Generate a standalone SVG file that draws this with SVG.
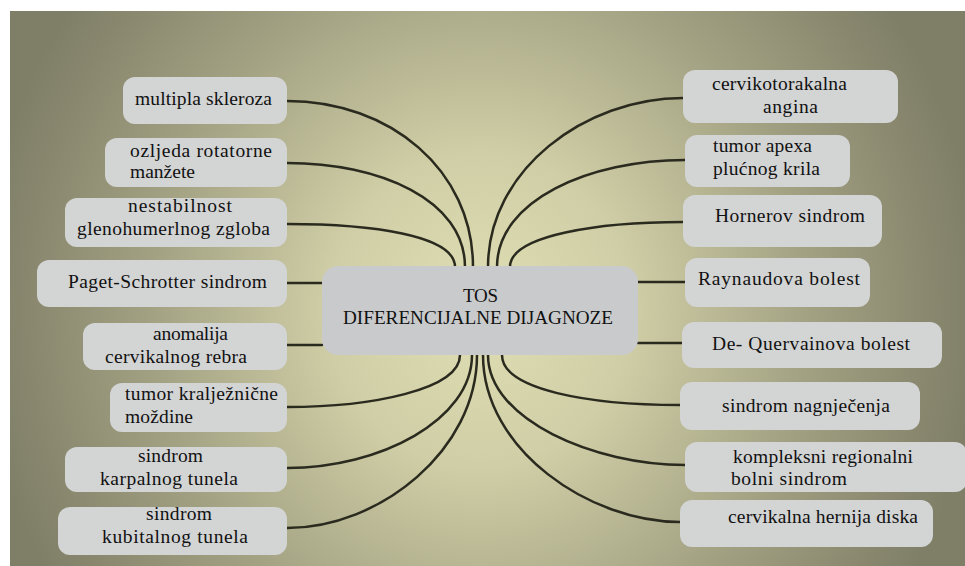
<svg xmlns="http://www.w3.org/2000/svg" width="965" height="566" viewBox="0 0 965 566">
<defs>
<radialGradient id="bg" gradientUnits="userSpaceOnUse" cx="480" cy="310" r="500" gradientTransform="translate(480 310) scale(1 1.05) translate(-480 -310)">
<stop offset="0" stop-color="#e0deb4"/>
<stop offset="0.3" stop-color="#d0cea6"/>
<stop offset="0.65" stop-color="#a3a283"/>
<stop offset="1" stop-color="#7f7e67"/>
</radialGradient>
</defs>
<style>
.n{fill:#d3d4d4;stroke:none}
.c{fill:#c9cacc}
.lbl{font-family:"Liberation Serif","Times New Roman",serif;font-size:19.5px;fill:#111111}
.ct{font-family:"Liberation Serif","Times New Roman",serif;font-size:19px;fill:#111111}
.e{fill:none;stroke:#2a2a1f;stroke-width:2.5;stroke-linecap:round}
</style>
<rect x="0" y="0" width="965" height="566" fill="#ffffff"/>
<rect x="10" y="11" width="955" height="555" fill="url(#bg)"/>
<g id="connectors">
<path class="e" d="M287,101 C390,101 473,170 473,267"/>
<path class="e" d="M287,163 C380,163 465,200 465,267"/>
<path class="e" d="M287,224 C370,224 455,235 455,267"/>
<path class="e" d="M287,283 H322"/>
<path class="e" d="M287,345 H322"/>
<path class="e" d="M287,407 C370,407 460,390 460,355"/>
<path class="e" d="M287,468 C380,468 472,420 472,355"/>
<path class="e" d="M287,528 C380,528 477,450 477,355"/>
<path class="e" d="M683,98 C585,98 488,170 488,267"/>
<path class="e" d="M685,160 C590,160 497,200 497,267"/>
<path class="e" d="M683,222 C600,222 510,235 510,267"/>
<path class="e" d="M638,282 H685"/>
<path class="e" d="M638,343 H682"/>
<path class="e" d="M680,405 C590,405 502,390 502,355"/>
<path class="e" d="M685,465 C595,465 488,420 488,355"/>
<path class="e" d="M680,522 C590,522 483,450 483,355"/>
</g>
<g id="center">
<rect class="c" x="322" y="266" width="316" height="89" rx="16"/>
<text class="ct" x="463" y="302" textLength="35">TOS</text>
<text class="ct" x="343" y="324" textLength="270" lengthAdjust="spacingAndGlyphs">DIFERENCIJALNE  DIJAGNOZE</text>
</g>
<g id="l1"><rect class="n" x="123" y="77" width="164" height="47" rx="12"/>
<text class="lbl" x="135" y="105" textLength="137">multipla skleroza</text></g>
<g id="l2"><rect class="n" x="105" y="138" width="182" height="49" rx="12"/>
<text class="lbl" x="130" y="157" textLength="142">ozljeda rotatorne</text>
<text class="lbl" x="130" y="178" textLength="65">manžete</text></g>
<g id="l3"><rect class="n" x="65" y="198" width="222" height="49" rx="12"/>
<text class="lbl" x="128" y="212" textLength="104">nestabilnost</text>
<text class="lbl" x="77" y="235" textLength="193">glenohumerlnog zgloba</text></g>
<g id="l4"><rect class="n" x="37" y="260" width="250" height="47" rx="12"/>
<text class="lbl" x="68" y="288" textLength="199">Paget-Schrotter sindrom</text></g>
<g id="l5"><rect class="n" x="83" y="323" width="204" height="47" rx="12"/>
<text class="lbl" x="153" y="340" textLength="75">anomalija</text>
<text class="lbl" x="105" y="363" textLength="142">cervikalnog rebra</text></g>
<g id="l6"><rect class="n" x="110" y="383" width="177" height="49" rx="12"/>
<text class="lbl" x="125" y="400" textLength="153">tumor kralježnične</text>
<text class="lbl" x="125" y="423" textLength="68">moždine</text></g>
<g id="l7"><rect class="n" x="65" y="447" width="222" height="45" rx="12"/>
<text class="lbl" x="138" y="462" textLength="65">sindrom</text>
<text class="lbl" x="100" y="485" textLength="138">karpalnog tunela</text></g>
<g id="l8"><rect class="n" x="58" y="507" width="229" height="48" rx="12"/>
<text class="lbl" x="146" y="520" textLength="66">sindrom</text>
<text class="lbl" x="102" y="543" textLength="146">kubitalnog tunela</text></g>
<g id="r1"><rect class="n" x="683" y="70" width="215" height="53" rx="12"/>
<text class="lbl" x="712" y="90" textLength="135">cervikotorakalna</text>
<text class="lbl" x="763" y="113" textLength="55">angina</text></g>
<g id="r2"><rect class="n" x="685" y="135" width="165" height="52" rx="12"/>
<text class="lbl" x="713" y="152" textLength="99">tumor apexa</text>
<text class="lbl" x="713" y="175" textLength="107">plućnog krila</text></g>
<g id="r3"><rect class="n" x="683" y="195" width="199" height="52" rx="12"/>
<text class="lbl" x="715" y="222" textLength="150">Hornerov sindrom</text></g>
<g id="r4"><rect class="n" x="685" y="258" width="185" height="49" rx="12"/>
<text class="lbl" x="698" y="285" textLength="162">Raynaudova bolest</text></g>
<g id="r5"><rect class="n" x="682" y="322" width="260" height="46" rx="12"/>
<text class="lbl" x="712" y="350" textLength="198">De- Quervainova bolest</text></g>
<g id="r6"><rect class="n" x="680" y="382" width="240" height="48" rx="12"/>
<text class="lbl" x="722" y="412" textLength="168">sindrom nagnječenja</text></g>
<g id="r7"><rect class="n" x="685" y="442" width="282" height="50" rx="12"/>
<text class="lbl" x="733" y="463" textLength="180">kompleksni regionalni</text>
<text class="lbl" x="731" y="485" textLength="116">bolni sindrom</text></g>
<g id="r8"><rect class="n" x="680" y="500" width="253" height="47" rx="12"/>
<text class="lbl" x="728" y="523" textLength="190">cervikalna hernija diska</text></g>
</svg>
